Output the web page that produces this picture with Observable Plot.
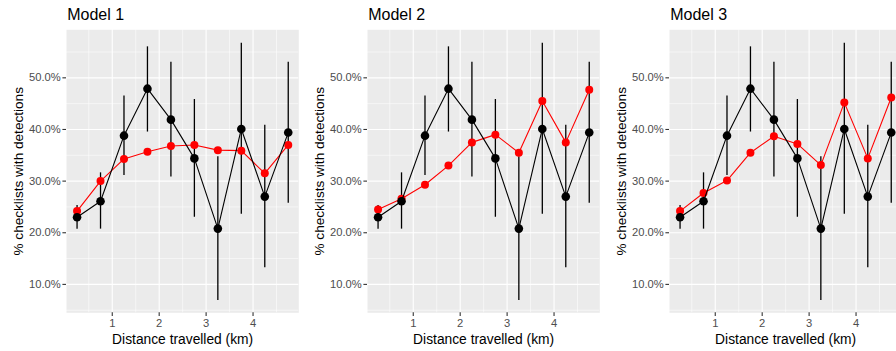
<!DOCTYPE html>
<html>
<head>
<meta charset="utf-8">
<script src="https://cdn.jsdelivr.net/npm/d3@7"></script>
<script src="https://cdn.jsdelivr.net/npm/@observablehq/plot@0.6"></script>
<style>
  html, body { margin: 0; padding: 0; background: #ffffff; }
  #chart { position: relative; width: 896px; height: 351px; overflow: hidden; font-family: "Liberation Sans", Arial, sans-serif; }
  #chart > div { position: absolute; top: 0; width: 302px; height: 351px; }
  #chart svg { display: block; max-width: none !important; width: 302px; height: 351px; }
</style>
</head>
<body>
<div id="chart"></div>
<script>
// Distance bins (km)
const distance = [0.25, 0.75, 1.25, 1.75, 2.25, 2.75, 3.25, 3.75, 4.25, 4.75];
// Observed % checklists with detections and its interval
const observed = [23.0, 26.1, 38.8, 47.9, 41.9, 34.4, 20.8, 40.1, 27.0, 39.4];
const obsLower = [20.7, 20.7, 31.1, 39.5, 30.8, 23.0, 6.9, 23.6, 13.2, 25.7];
const obsUpper = [25.3, 31.6, 46.5, 56.0, 53.0, 45.8, 34.7, 56.7, 40.8, 53.0];
// Model predictions
const model1 = [24.2, 30.0, 34.3, 35.7, 36.8, 37.0, 36.0, 35.9, 31.5, 37.0];
const model2 = [24.5, 26.6, 29.3, 33.0, 37.5, 39.0, 35.5, 45.5, 37.5, 47.7];
const model3 = [24.2, 27.7, 30.1, 35.5, 38.7, 37.2, 33.1, 45.2, 34.4, 46.2];
const modelNames = ["Model 1", "Model 2", "Model 3"];
const yTicks = [10, 20, 30, 40, 50];
const yMinor = [5, 15, 25, 35, 45, 55];
const xTicks = [1, 2, 3, 4];
const xMinor = [0.5, 1.5, 2.5, 3.5, 4.5];
const yLabel = "% checklists with detections";
const xLabel = "Distance travelled (km)";

const obsData = distance.map((d, i) => ({x: d, y: observed[i], lo: obsLower[i], hi: obsUpper[i]}));
const models = [model1, model2, model3];
const offsets = [0, 301.4, 603];

const font = "'Liberation Sans', Arial, sans-serif";
const chart = document.getElementById("chart");

models.forEach((m, k) => {
  const pred = distance.map((d, i) => ({x: d, y: m[i]}));
  const p = Plot.plot({
    width: 302,
    height: 351,
    marginLeft: 66,
    marginRight: 3.7,
    marginTop: 29.3,
    marginBottom: 38.7,
    style: {fontFamily: font, background: "transparent", overflow: "visible"},
    x: {domain: [0.025, 4.975]},
    y: {domain: [4.5, 59.3]},
    marks: [
      Plot.frame({fill: "#EBEBEB", stroke: null}),
      Plot.gridY(yMinor, {stroke: "#ffffff", strokeOpacity: 1, strokeWidth: 0.55}),
      Plot.gridX(xMinor, {stroke: "#ffffff", strokeOpacity: 1, strokeWidth: 0.55}),
      Plot.gridY(yTicks, {stroke: "#ffffff", strokeOpacity: 1, strokeWidth: 1.1}),
      Plot.gridX(xTicks, {stroke: "#ffffff", strokeOpacity: 1, strokeWidth: 1.1}),
      Plot.axisY(yTicks, {tickFormat: d => d.toFixed(1) + "%", tickSize: 3.6, tickPadding: 2.2,
        fontSize: 11.2, stroke: "#333333", fill: "#4D4D4D", strokeWidth: 1.1, label: null}),
      Plot.axisX(xTicks, {tickFormat: d => String(d), tickSize: 3.6, tickPadding: 2.6,
        fontSize: 11.2, stroke: "#333333", fill: "#4D4D4D", strokeWidth: 1.1, label: null}),
      Plot.ruleX(obsData, {x: "x", y1: "lo", y2: "hi", stroke: "#000000", strokeWidth: 1.3}),
      Plot.line(pred, {x: "x", y: "y", stroke: "#FF0000", strokeWidth: 1.1}),
      Plot.dot(pred, {x: "x", y: "y", r: 4, fill: "#FF0000", stroke: null}),
      Plot.line(obsData, {x: "x", y: "y", stroke: "#000000", strokeWidth: 1.1}),
      Plot.dot(obsData, {x: "x", y: "y", r: 4.3, fill: "#000000", stroke: null}),
      Plot.text([modelNames[k]], {frameAnchor: "top-left", text: d => d, dx: 0.7, dy: -15.4,
        textAnchor: "start", lineAnchor: "middle", fontSize: 16, fill: "#000000"}),
      Plot.text([yLabel], {frameAnchor: "left", text: d => d, dx: -48, rotate: -90,
        textAnchor: "middle", lineAnchor: "middle", fontSize: 13.6, fill: "#000000"}),
      Plot.text([xLabel], {frameAnchor: "bottom", text: d => d, dy: 26.5,
        textAnchor: "middle", lineAnchor: "middle", fontSize: 13.8, fill: "#000000"})
    ]
  });
  const wrap = document.createElement("div");
  wrap.style.left = offsets[k] + "px";
  wrap.appendChild(p);
  chart.appendChild(wrap);
});
</script>
</body>
</html>
